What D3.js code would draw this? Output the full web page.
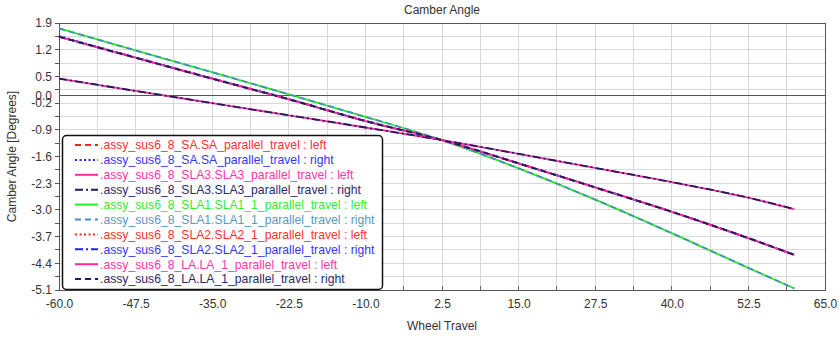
<!DOCTYPE html>
<html><head><meta charset="utf-8">
<script src="https://cdn.jsdelivr.net/npm/d3@7/dist/d3.min.js"></script>
<style>body{margin:0;background:#fff}svg{display:block;font-family:"Liberation Sans",Arial,sans-serif}</style>
</head><body><svg id="c" width="840" height="338"></svg>
<script>
// ---- data ----
const travel = [-60, -47.5, -35, -22.5, -10, 2.5, 15, 27.5, 40, 52.5, 60];
const saLeft    = [1.54, 0.99, 0.44, -0.10, -0.67, -1.17, -1.78, -2.41, -3.05, -3.74, -4.18];
const saRight   = [1.56, 1.00, 0.45, -0.09, -0.66, -1.17, -1.78, -2.41, -3.05, -3.74, -4.18];
const sla3Left  = [0.44, 0.12, -0.20, -0.52, -0.84, -1.17, -1.53, -1.90, -2.27, -2.68, -2.98];
const sla3Right = [0.44, 0.12, -0.20, -0.52, -0.84, -1.17, -1.53, -1.90, -2.27, -2.68, -2.98];
const sla1Left  = [1.76, 1.18, 0.61, 0.03, -0.56, -1.17, -1.91, -2.73, -3.61, -4.52, -5.06];
const sla1Right = [1.76, 1.18, 0.61, 0.03, -0.56, -1.17, -1.91, -2.73, -3.61, -4.52, -5.06];
const sla2Left  = [1.54, 0.99, 0.44, -0.10, -0.67, -1.17, -1.78, -2.41, -3.05, -3.74, -4.18];
const sla2Right = [1.54, 0.99, 0.44, -0.10, -0.67, -1.17, -1.78, -2.41, -3.05, -3.74, -4.18];
const laLeft    = [1.54, 0.99, 0.44, -0.10, -0.67, -1.17, -1.78, -2.41, -3.05, -3.74, -4.18];
const laRight   = [1.54, 0.99, 0.44, -0.10, -0.67, -1.17, -1.78, -2.41, -3.05, -3.74, -4.18];
const seriesNames = [
  ".assy_sus6_8_SA.SA_parallel_travel : left",
  ".assy_sus6_8_SA.SA_parallel_travel : right",
  ".assy_sus6_8_SLA3.SLA3_parallel_travel : left",
  ".assy_sus6_8_SLA3.SLA3_parallel_travel : right",
  ".assy_sus6_8_SLA1.SLA1_1_parallel_travel : left",
  ".assy_sus6_8_SLA1.SLA1_1_parallel_travel : right",
  ".assy_sus6_8_SLA2.SLA2_1_parallel_travel : left",
  ".assy_sus6_8_SLA2.SLA2_1_parallel_travel : right",
  ".assy_sus6_8_LA.LA_1_parallel_travel : left",
  ".assy_sus6_8_LA.LA_1_parallel_travel : right"
];
const seriesValues = [saLeft, saRight, sla3Left, sla3Right, sla1Left, sla1Right, sla2Left, sla2Right, laLeft, laRight];
const xTickLabels = ["-60.0","-47.5","-35.0","-22.5","-10.0","2.5","15.0","27.5","40.0","52.5","65.0"];
const yTickLabels = ["1.9","1.2","0.5","0.0","-0.2","-0.9","-1.6","-2.3","-3.0","-3.7","-4.4","-5.1"];
const titleText = "Camber Angle";
const xTitle = "Wheel Travel";
const yTitle = "Camber Angle [Degrees]";

// ---- styles ----
const colors = ["#ff2020","#2020ff","#ff2aa0","#1c1c5c","#22ee22","#4a8cbc","#ff2020","#2020ff","#ff2aa0","#1c1c5c"];
const textColors = ["#ff3030","#3535ff","#ff35aa","#2a2a66","#30ee30","#5a98c0","#ff3030","#3535ff","#ff35aa","#2a2a66"];
const dashes = ["6,4","2,2.5",null,"8,3,2,3",null,"6,4","2,2.5","8,3,2,3",null,"6,4"];

const L = 59, R = 825, T = 23, B = 290;
const svg = d3.select("#c");
const x = d3.scaleLinear().domain([-60, 65]).range([L, R]);
const y = d3.scaleLinear().domain([-5.1, 1.9]).range([B, T]);

// grid
const xGrid = d3.range(0, 21).map(i => -60 + i * 6.25);
const yGrid = d3.range(0, 21).map(i => 1.9 - i * 0.35);
const g = svg.append("g");
g.selectAll("line.vg").data(xGrid).join("line")
  .attr("x1", d => x(d)).attr("x2", d => x(d)).attr("y1", T).attr("y2", B)
  .attr("stroke", "#d9d9d9").attr("stroke-width", 1).attr("shape-rendering","crispEdges");
g.selectAll("line.hg").data(yGrid).join("line")
  .attr("y1", d => y(d)).attr("y2", d => y(d)).attr("x1", L).attr("x2", R)
  .attr("stroke", "#d9d9d9").attr("stroke-width", 1).attr("shape-rendering","crispEdges");
// zero line
g.append("line").attr("x1", L).attr("x2", R).attr("y1", y(0)).attr("y2", y(0))
  .attr("stroke", "#555").attr("stroke-width", 1).attr("shape-rendering","crispEdges");

// axes
const xAxis = d3.axisBottom(x).tickValues(xTickLabels.map(Number)).tickFormat((d,i)=>xTickLabels[i]).tickSize(0).tickPadding(9);
const xa = svg.append("g").attr("transform", `translate(0,${B})`).call(xAxis);
xa.select(".domain").remove();
xa.selectAll("text").attr("font-size", 12).attr("fill", "#333").attr("font-family","Liberation Sans, Arial, sans-serif");
svg.append("g").selectAll("line").data(xGrid).join("line")
  .attr("x1", d => x(d)).attr("x2", d => x(d)).attr("y1", B - 4).attr("y2", B)
  .attr("stroke", "#666").attr("shape-rendering","crispEdges");

const yAxis = d3.axisLeft(y).tickValues(yTickLabels.map(Number)).tickFormat((d,i)=>yTickLabels[i]).tickSize(0).tickPadding(7);
const ya = svg.append("g").attr("transform", `translate(${L},0)`).call(yAxis);
ya.select(".domain").remove();
ya.selectAll("text").attr("font-size", 12).attr("fill", "#333").attr("font-family","Liberation Sans, Arial, sans-serif");
svg.append("g").selectAll("line").data(yGrid).join("line")
  .attr("x1", L - 4).attr("x2", L).attr("y1", d => y(d)).attr("y2", d => y(d))
  .attr("stroke", "#555").attr("shape-rendering","crispEdges");

// frame
svg.append("rect").attr("x", L).attr("y", T).attr("width", R - L).attr("height", B - T)
  .attr("fill", "none").attr("stroke", "#555").attr("stroke-width", 1).attr("shape-rendering","crispEdges");

// series
const line = d3.line().x((d,i) => x(travel[i])).y(d => y(d)).curve(d3.curveMonotoneX);
svg.append("g").selectAll("path").data(seriesValues).join("path")
  .attr("d", d => line(d)).attr("fill", "none")
  .attr("stroke", (d,i) => colors[i]).attr("stroke-width", 1.8)
  .attr("stroke-dasharray", (d,i) => dashes[i]);

// titles
svg.append("text").attr("x", (L+R)/2).attr("y", 14).attr("text-anchor","middle")
  .attr("font-size", 12).attr("fill", "#333").text(titleText);
svg.append("text").attr("x", (L+R)/2).attr("y", 330).attr("text-anchor","middle")
  .attr("font-size", 12).attr("fill", "#333").text(xTitle);
svg.append("text").attr("transform", `translate(16,${(T+B)/2}) rotate(-90)`).attr("text-anchor","middle")
  .attr("font-size", 12).attr("fill", "#333").text(yTitle);

// legend
const lg = svg.append("g");
lg.append("rect").attr("x", 62.5).attr("y", 135.5).attr("width", 320).attr("height", 154).attr("rx", 4)
  .attr("fill", "#fff").attr("stroke", "#111").attr("stroke-width", 1.5);
const ly = i => 145 + i * 14.9;
lg.selectAll("line.sym").data(seriesNames).join("line")
  .attr("x1", 75).attr("x2", 98).attr("y1", (d,i) => ly(i)).attr("y2", (d,i) => ly(i))
  .attr("stroke", (d,i) => colors[i]).attr("stroke-width", 2).attr("stroke-dasharray", (d,i) => dashes[i]);
lg.selectAll("text").data(seriesNames).join("text")
  .attr("x", 100).attr("y", (d,i) => ly(i)).attr("dy", "0.36em")
  .attr("font-size", 12.2).attr("fill", (d,i) => textColors[i]).text(d => d);
</script></body></html>
